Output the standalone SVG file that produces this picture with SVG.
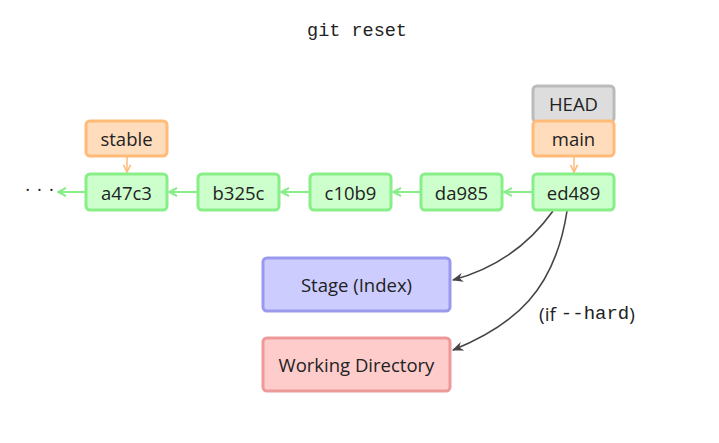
<svg xmlns="http://www.w3.org/2000/svg" width="719" height="443" viewBox="0 0 719 443">
<style>
.lbl{font-family:"Open Sans","DejaVu Sans",sans-serif;font-size:18.5px;fill:#222;text-anchor:middle;dominant-baseline:central}
.commit{fill:#ccffcc;stroke:#88ee88;stroke-width:3}
.branch{fill:#ffdcbc;stroke:#ffbb77;stroke-width:3}
.head{fill:#dddddd;stroke:#bbbbbb;stroke-width:3}
.stage{fill:#ccccff;stroke:#9999ee;stroke-width:3}
.wd{fill:#ffcccc;stroke:#ee9999;stroke-width:3}
.gl{stroke:#88ee88;stroke-width:2;fill:none}
.ol{stroke:#ffbb77;stroke-width:1.5;fill:none}
.dk{stroke:#444;stroke-width:1.6;fill:none}
.mono{font-family:"Liberation Mono","DejaVu Sans Mono",monospace;fill:#222}
.sans{font-family:"Open Sans","DejaVu Sans",sans-serif;fill:#222}
</style>
<defs>
<marker id="ag" viewBox="0 0 10 10" refX="9" refY="5" markerWidth="5" markerHeight="5" orient="auto"><path d="M1,1 L9,5 L1,9" fill="none" stroke="#88ee88" stroke-width="2"/></marker>
<marker id="ao" viewBox="0 0 10 10" refX="9" refY="5" markerWidth="6" markerHeight="6" orient="auto"><path d="M1,1 L9,5 L1,9" fill="none" stroke="#ffbb77" stroke-width="1.8"/></marker>
<marker id="ad" viewBox="0 0 10 10" refX="9" refY="5" markerWidth="7" markerHeight="7" orient="auto"><path d="M0,1 L10,5 L0,9 L3,5 Z" fill="#444"/></marker>
</defs>
<text x="357" y="31" class="mono" font-size="18.5" text-anchor="middle" dominant-baseline="central">git reset</text>
<g id="connectors">
<path class="gl" d="M533,192 L504,192" marker-end="url(#ag)"/>
<path class="gl" d="M421,192 L393,192" marker-end="url(#ag)"/>
<path class="gl" d="M310,192 L281,192" marker-end="url(#ag)"/>
<path class="gl" d="M198,192 L169,192" marker-end="url(#ag)"/>
<path class="gl" d="M86,192 L58,192" marker-end="url(#ag)"/>
<path class="ol" d="M127,157 L127,172" marker-end="url(#ao)"/>
<path class="ol" d="M574,157 L574,172" marker-end="url(#ao)"/>
<path class="dk" d="M553,211 C530,243 498,268 453,280" marker-end="url(#ad)"/>
<path class="dk" d="M567,211 C555,290 515,325 453,350" marker-end="url(#ad)"/>
<text x="587" y="314" font-size="19" dominant-baseline="central" text-anchor="middle"><tspan class="sans">(if </tspan><tspan class="mono">--hard</tspan><tspan class="sans">)</tspan></text>
</g>
<g id="dots"><text x="43" y="188" class="lbl" font-size="20" letter-spacing="7">···</text></g>
<g id="a47c3"><rect class="commit" x="86" y="174" width="81" height="36" rx="4"/><text x="126.5" y="192" class="lbl">a47c3</text></g>
<g id="b325c"><rect class="commit" x="198" y="174" width="81" height="36" rx="4"/><text x="238.5" y="192" class="lbl">b325c</text></g>
<g id="c10b9"><rect class="commit" x="310" y="174" width="81" height="36" rx="4"/><text x="350.5" y="192" class="lbl">c10b9</text></g>
<g id="da985"><rect class="commit" x="421" y="174" width="81" height="36" rx="4"/><text x="461.5" y="192" class="lbl">da985</text></g>
<g id="ed489"><rect class="commit" x="533" y="174" width="81" height="36" rx="4"/><text x="573.5" y="192" class="lbl">ed489</text></g>
<g id="stable"><rect class="branch" x="86" y="121" width="81" height="35" rx="4"/><text x="126.5" y="138.5" class="lbl">stable</text></g>
<g id="HEAD"><rect class="head" x="533" y="86" width="81" height="36" rx="4"/><text x="573.5" y="103.5" class="lbl">HEAD</text></g>
<g id="main"><rect class="branch" x="533" y="121" width="81" height="35" rx="4"/><text x="573.5" y="138.5" class="lbl">main</text></g>
<g id="stage"><rect class="stage" x="263" y="258" width="187" height="53" rx="4"/><text x="356.5" y="284.5" class="lbl">Stage (Index)</text></g>
<g id="workdir"><rect class="wd" x="263" y="338" width="187" height="53" rx="4"/><text x="356.5" y="364.5" class="lbl">Working Directory</text></g>
</svg>
